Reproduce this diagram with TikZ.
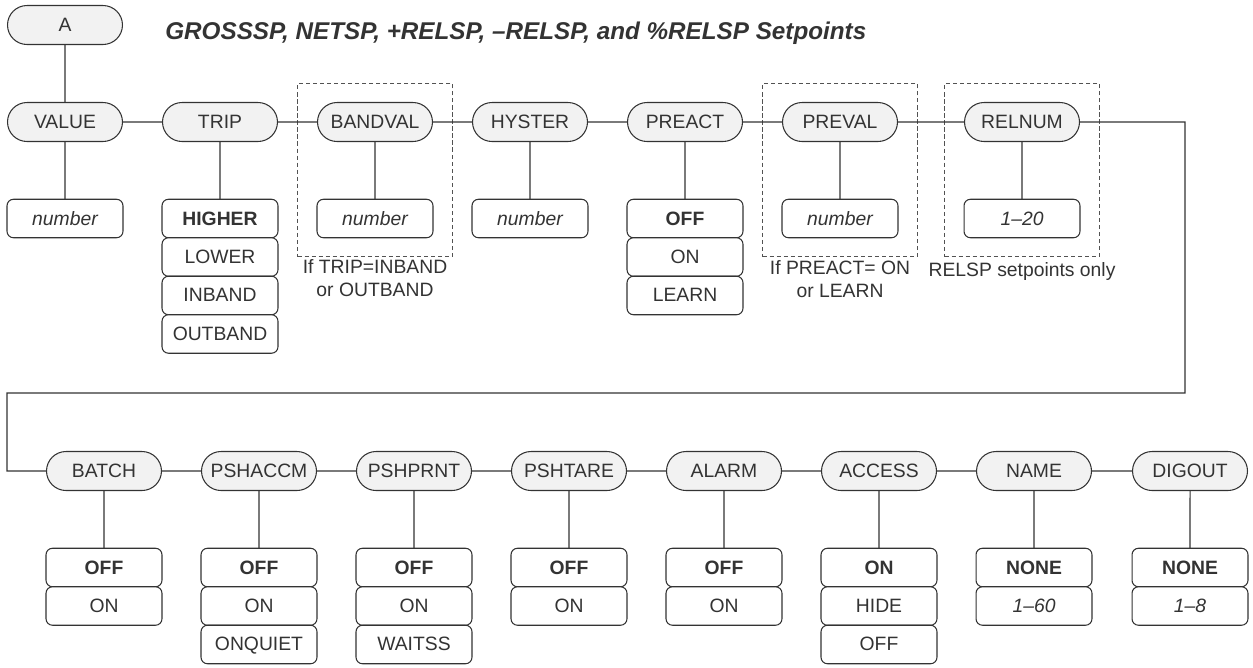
\documentclass[tikz,border=0pt]{standalone}
\usepackage{fontspec}
\setmainfont{Liberation Sans}
\usepackage{tikz}
\usetikzlibrary{shapes.misc,fit,positioning}

\definecolor{ink}{HTML}{333333}
\definecolor{pillgray}{HTML}{F2F2F2}

\tikzset{
	txt/.style={font=\fontsize{11}{13}\selectfont},
	menu/.style={rounded rectangle, draw=ink, fill=pillgray, line width=0.6pt,
		minimum width=2.3cm, minimum height=0.78cm, inner sep=0pt, outer sep=0pt,
		text=ink, txt, text height=1.6ex, text depth=0.2ex},
	choice/.style={rectangle, rounded corners=0.13cm, draw=ink, fill=white, line width=0.6pt,
		minimum width=2.32cm, minimum height=0.77cm, inner sep=0pt, outer sep=0pt,
		text=ink, txt, text height=1.6ex, text depth=0.2ex},
	dflt/.style={choice, font=\fontsize{11}{13}\selectfont\bfseries},
	vari/.style={choice, font=\fontsize{11}{13}\selectfont\itshape},
	dashbox/.style={draw=ink!85, dash pattern=on 2.4pt off 1.6pt, line width=0.6pt,
		inner xsep=0.39cm, inner ysep=0.38cm},
	note/.style={text=ink, txt, align=center, inner sep=0pt},
	link/.style={draw=ink, line width=0.6pt}
}

\begin{document}
\begin{tikzpicture}[x=0.02cm,y=-0.02cm]
	\useasboundingbox (0,0) rectangle (1253,667);

	% title and top menu
	\node[menu] (a) at (65,25) {A};
	\node[anchor=west, inner sep=0pt, text=ink, font=\fontsize{13.8}{16}\selectfont\bfseries\itshape] (title) at (165,33)
		{GROSSSP, NETSP, +RELSP, –RELSP, and \%RELSP Setpoints};

	% first row
	\begin{scope}
		\node[menu] (value) at (65,122) {VALUE};
		\node[menu] (trip) at (220,122) {TRIP};
		\node[menu] (bandval) at (375,122) {BANDVAL};
		\node[menu] (hyster) at (530,122) {HYSTER};
		\node[menu] (preact) at (685,122) {PREACT};
		\node[menu] (preval) at (840,122) {PREVAL};
		\node[menu] (relnum) at (1022,122) {RELNUM};
	\end{scope}

	\begin{scope}[node distance=0pt]
		\node[vari] (valnum) at (65,218.5) {number};
		\node[dflt] (higher) at (220,218.5) {HIGHER};
		\node[choice, below=of higher] (lower) {LOWER};
		\node[choice, below=of lower] (inband) {INBAND};
		\node[choice, below=of inband] (outband) {OUTBAND};
		\node[vari] (bandnum) at (375,218.5) {number};
		\node[vari] (hystnum) at (530,218.5) {number};
		\node[dflt] (pactoff) at (685,218.5) {OFF};
		\node[choice, below=of pactoff] (pacton) {ON};
		\node[choice, below=of pacton] (pactlearn) {LEARN};
		\node[vari] (prevnum) at (840,218.5) {number};
		\node[vari] (relrange) at (1022,218.5) {1–20};
	\end{scope}

	\node[dashbox, fit=(bandval)(bandnum)] (bandgrp) {};
	\node[dashbox, fit=(preval)(prevnum)] (prevgrp) {};
	\node[dashbox, fit=(relnum)(relrange)] (relgrp) {};

	\node[note] (bandnote) at (375,278) {If TRIP=INBAND\\or OUTBAND};
	\node[note] (prevnote) at (840,279) {If PREACT= ON\\or LEARN};
	\node[note] (relnote) at (1022,271) {RELSP setpoints only};

	% second row
	\begin{scope}
		\node[menu] (batch) at (104,471) {BATCH};
		\node[menu] (pshaccm) at (259,471) {PSHACCM};
		\node[menu] (pshprnt) at (414,471) {PSHPRNT};
		\node[menu] (pshtare) at (569,471) {PSHTARE};
		\node[menu] (alarm) at (724,471) {ALARM};
		\node[menu] (access) at (879,471) {ACCESS};
		\node[menu] (name) at (1034,471) {NAME};
		\node[menu] (digout) at (1190,471) {DIGOUT};
	\end{scope}

	\begin{scope}[node distance=0pt]
		\node[dflt] (batoff) at (104,567.5) {OFF};
		\node[choice, below=of batoff] (baton) {ON};
		\node[dflt] (accoff) at (259,567.5) {OFF};
		\node[choice, below=of accoff] (accon) {ON};
		\node[choice, below=of accon] (accquiet) {ONQUIET};
		\node[dflt] (prnoff) at (414,567.5) {OFF};
		\node[choice, below=of prnoff] (prnon) {ON};
		\node[choice, below=of prnon] (prnwait) {WAITSS};
		\node[dflt] (taroff) at (569,567.5) {OFF};
		\node[choice, below=of taroff] (taron) {ON};
		\node[dflt] (alaoff) at (724,567.5) {OFF};
		\node[choice, below=of alaoff] (alaon) {ON};
		\node[dflt] (acson) at (879,567.5) {ON};
		\node[choice, below=of acson] (acshide) {HIDE};
		\node[choice, below=of acshide] (acsoff) {OFF};
		\node[dflt] (namenone) at (1034,567.5) {NONE};
		\node[vari, below=of namenone] (namerange) {1–60};
		\node[dflt] (dignone) at (1190,567.5) {NONE};
		\node[vari, below=of dignone] (digrange) {1–8};
	\end{scope}

	% wrap from first row to second row
	\coordinate (wrapa) at (1185,122);
	\coordinate (wrapb) at (1185,393);
	\coordinate (wrapc) at (7,393);
	\coordinate (wrapd) at (7,471);

	\begin{scope}[every path/.style={link}]
		\path (a) edge (value);
		\path (value) edge (trip);
		\path (trip) edge (bandval);
		\path (bandval) edge (hyster);
		\path (hyster) edge (preact);
		\path (preact) edge (preval);
		\path (preval) edge (relnum);
		\path (value) edge (valnum);
		\path (trip) edge (higher);
		\path (bandval) edge (bandnum);
		\path (hyster) edge (hystnum);
		\path (preact) edge (pactoff);
		\path (preval) edge (prevnum);
		\path (relnum) edge (relrange);
		\draw (relnum) -- (wrapa) -- (wrapb) -- (wrapc) -- (wrapd) -- (batch);
		\path (batch) edge (pshaccm);
		\path (pshaccm) edge (pshprnt);
		\path (pshprnt) edge (pshtare);
		\path (pshtare) edge (alarm);
		\path (alarm) edge (access);
		\path (access) edge (name);
		\path (name) edge (digout);
		\path (batch) edge (batoff);
		\path (pshaccm) edge (accoff);
		\path (pshprnt) edge (prnoff);
		\path (pshtare) edge (taroff);
		\path (alarm) edge (alaoff);
		\path (access) edge (acson);
		\path (name) edge (namenone);
		\path (digout) edge (dignone);
	\end{scope}
\end{tikzpicture}
\end{document}
